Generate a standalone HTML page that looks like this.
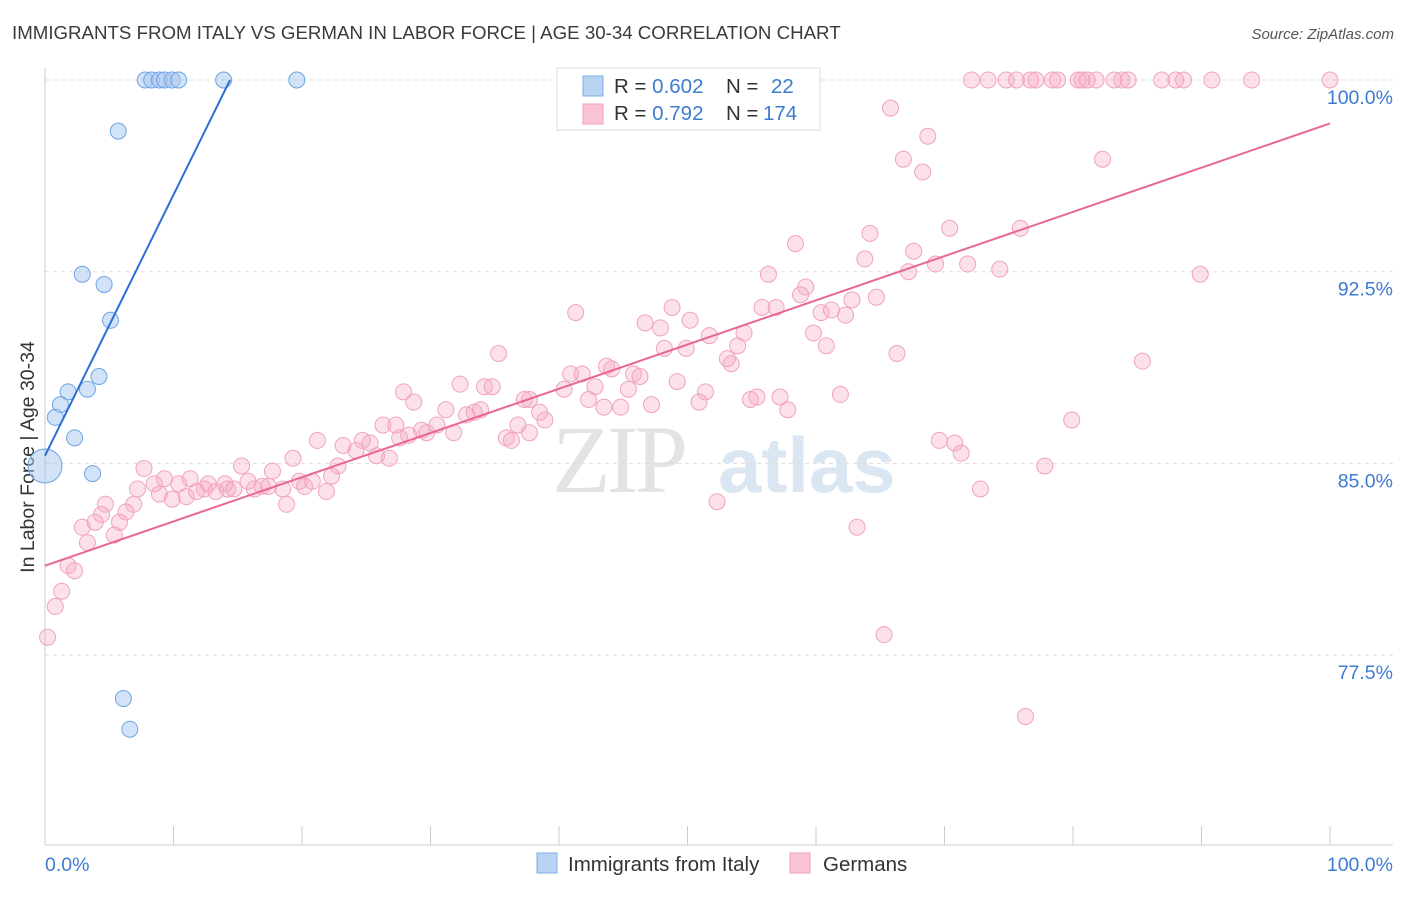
<!DOCTYPE html>
<html><head><meta charset="utf-8"><style>
body{margin:0;background:#fff;font-family:"Liberation Sans",sans-serif;}
</style></head><body>
<svg id="chart" width="1406" height="892" viewBox="0 0 1406 892" xmlns="http://www.w3.org/2000/svg" font-family="Liberation Sans, sans-serif">
<text x="12" y="39" font-size="18.7" fill="#3a3a3a">IMMIGRANTS FROM ITALY VS GERMAN IN LABOR FORCE | AGE 30-34 CORRELATION CHART</text>
<text x="1394" y="39" font-size="15" fill="#555" text-anchor="end" font-style="italic">Source: ZipAtlas.com</text>
<g>
<text x="552" y="492" font-size="96" fill="#e3e3e3" font-family="Liberation Serif, serif" letter-spacing="-4">ZIP</text>
<text x="718" y="492" font-size="78" fill="#dbe6f3" font-weight="bold">atlas</text>
</g>
<g id="grid"></g>
<g id="axes"></g>
<text transform="translate(34,457) rotate(-90)" font-size="19.5" fill="#333" text-anchor="middle">In Labor Force | Age 30-34</text>
<g id="pink"></g>
<g id="blue"></g>
<g id="lines"></g>
<g>
<rect x="557" y="68" width="263" height="62" fill="#fff" stroke="#ddd"/>
<rect x="583" y="76" width="20" height="20" fill="#b9d3f3" stroke="#7aaee8"/>
<rect x="583" y="104" width="20" height="20" fill="#f9c3d4" stroke="#f0a0bb"/>
<text x="614" y="93" font-size="20.5" fill="#333">R = <tspan fill="#3d7bd4">0.602</tspan>  <tspan x="726">N = </tspan><tspan x="771" fill="#3d7bd4">22</tspan></text>
<text x="614" y="120" font-size="20.5" fill="#333">R = <tspan fill="#3d7bd4">0.792</tspan>  <tspan x="726">N = </tspan><tspan x="763" fill="#3d7bd4">174</tspan></text>
</g>
<g>
<rect x="537" y="853" width="20" height="20" fill="#b9d3f3" stroke="#7aaee8"/>
<text x="568" y="871" font-size="20.5" fill="#333">Immigrants from Italy</text>
<rect x="790" y="853" width="20" height="20" fill="#f9c3d4" stroke="#f0a0bb"/>
<text x="823" y="871" font-size="20.5" fill="#333">Germans</text>
</g>
</svg>
<script>
const yTicks=[100,92.5,85,77.5];
const yTickLabels=["100.0%","92.5%","85.0%","77.5%"];
const xTickLabels=["0.0%","100.0%"];
const blueX=[7.8,8.3,8.9,9.3,9.9,10.4,13.9,19.6,5.7,2.9,4.6,5.1,4.2,1.8,3.3,1.2,0.8,2.3,3.7,0,6.1,6.6];
const blueY=[100,100,100,100,100,100,100,100,98.0,92.4,92.0,90.6,88.4,87.8,87.9,87.3,86.8,86.0,84.6,84.9,75.8,74.6];
const blueR=[8,8,8,8,8,8,8,8,8,8,8,8,8,8,8,8,8,8,8,17,8,8];
const pinkX=[72.1,73.4,74.8,75.6,76.7,77.1,78.4,78.8,80.4,80.7,81.1,81.8,83.2,83.8,84.3,86.9,88.0,88.6,90.8,93.9,100,
65.8,68.7,66.8,68.3,82.3,64.2,70.4,67.6,75.9,58.4,56.3,63.8,67.2,69.3,71.8,74.3,89.9,41.3,48.8,46.7,47.9,50.2,51.7,54.4,55.8,56.9,58.8,59.2,60.4,61.2,62.3,62.8,64.7,59.8,60.8,66.3,85.4,35.3,48.2,49.9,53.1,53.4,53.9,40.9,41.8,43.7,44.1,45.8,46.3,32.3,34.2,34.8,27.9,28.7,37.3,37.7,40.4,42.8,45.4,49.2,51.4,50.9,54.9,55.4,57.2,57.8,61.9,31.2,32.8,33.4,33.9,38.5,38.9,42.3,43.5,44.8,47.2,26.3,27.3,29.3,28.3,27.6,29.7,30.5,31.8,35.9,36.3,36.8,37.7,79.9,24.7,23.2,24.2,25.3,25.8,21.2,26.8,69.6,70.8,71.3,19.3,22.8,15.3,17.7,7.7,9.3,8.5,10.4,11.3,12.7,14.0,12.4,13.3,14.2,15.8,16.9,17.4,18.5,19.8,20.8,20.2,22.3,7.2,8.9,9.9,11.0,11.8,14.7,21.9,16.3,18.8,77.8,72.8,4.7,6.9,4.4,6.3,2.9,3.9,5.8,5.4,3.3,52.3,63.2,1.8,2.3,1.3,0.8,0.2,65.3,76.3];
const pinkY=[100,100,100,100,100,100,100,100,100,100,100,100,100,100,100,100,100,100,100,100,100,
98.9,97.8,96.9,96.4,96.9,94.0,94.2,93.3,94.2,93.6,92.4,93.0,92.5,92.8,92.8,92.6,92.4,90.9,91.1,90.5,90.3,90.6,90.0,90.1,91.1,91.1,91.6,91.9,90.9,91.0,90.8,91.4,91.5,90.1,89.6,89.3,89.0,89.3,89.5,89.5,89.1,88.9,89.6,88.5,88.5,88.8,88.7,88.5,88.4,88.1,88.0,88.0,87.8,87.4,87.5,87.5,87.9,88.0,87.9,88.2,87.8,87.4,87.5,87.6,87.6,87.1,87.7,87.1,86.9,87.0,87.1,87.0,86.7,87.5,87.2,87.2,87.3,86.5,86.5,86.3,86.1,86.0,86.2,86.5,86.2,86.0,85.9,86.5,86.2,86.7,85.9,85.7,85.5,85.8,85.3,85.9,85.2,85.9,85.8,85.4,85.2,84.9,84.9,84.7,84.8,84.4,84.2,84.2,84.4,84.2,84.2,84.0,83.9,84.0,84.3,84.1,84.1,84.0,84.3,84.3,84.1,84.5,84.0,83.8,83.6,83.7,83.9,84.0,83.9,84.0,83.4,84.9,84.0,83.4,83.4,83.0,83.1,82.5,82.7,82.7,82.2,81.9,83.5,82.5,81.0,80.8,80.0,79.4,78.2,78.3,75.1];
const blueLineX=[0,14.4], blueLineY=[85.3,100];
const pinkLineX=[0,100], pinkLineY=[81.0,98.3];

const NS="http://www.w3.org/2000/svg";
function xs(v){return 45+v*12.85;}
function ys(v){return 80+(100-v)*25.56;}
function mk(tag,attrs,parent){const e=document.createElementNS(NS,tag);for(const k in attrs)e.setAttribute(k,attrs[k]);document.getElementById(parent).appendChild(e);return e;}
yTicks.forEach((t,i)=>{
 const l=mk('line',{x1:45,x2:1393,y1:ys(t),y2:ys(t),stroke:'#ddd','stroke-dasharray':'4,4'},'grid');
 
 
 const tx=mk('text',{x:1393,y:ys(t)+24,'font-size':19.5,fill:'#3d7bd4','text-anchor':'end'},'grid');
 tx.textContent=yTickLabels[i];
 
 
});
let ax=mk('line',{x1:45,x2:45,y1:68,y2:845,stroke:'#ccc'},'axes');


ax=mk('line',{x1:45,x2:1393,y1:845,y2:845,stroke:'#ccc'},'axes');


for(let i=0;i<=10;i++){
 const t=mk('line',{x1:xs(i*10),x2:xs(i*10),y1:826,y2:845,stroke:'#ccc'},'axes');
 
 
}
[[0,'start',45],[100,'end',1393]].forEach((d,i)=>{
 const tx=mk('text',{x:d[2],y:871,'font-size':19.5,fill:'#3d7bd4','text-anchor':d[1]},'axes');
 tx.textContent=xTickLabels[i];
 
 
});
pinkX.forEach((v,i)=>{
 const c=mk('circle',{cx:xs(v),cy:ys(pinkY[i]),r:8,fill:'rgba(246,170,196,0.35)',stroke:'#f0a3bd','stroke-width':1},'pink');
 
 
});
blueX.forEach((v,i)=>{
 const c=mk('circle',{cx:xs(v),cy:ys(blueY[i]),r:blueR[i],fill:'rgba(165,198,240,0.5)',stroke:'#6fa4e4','stroke-width':1},'blue');
 
 
});
let ln=mk('line',{x1:xs(blueLineX[0]),y1:ys(blueLineY[0]),x2:xs(blueLineX[1]),y2:ys(blueLineY[1]),stroke:'#2c6fd6','stroke-width':2},'lines');


ln=mk('line',{x1:xs(pinkLineX[0]),y1:ys(pinkLineY[0]),x2:xs(pinkLineX[1]),y2:ys(pinkLineY[1]),stroke:'#e8659a','stroke-width':2},'lines');


</script>
</body></html>
